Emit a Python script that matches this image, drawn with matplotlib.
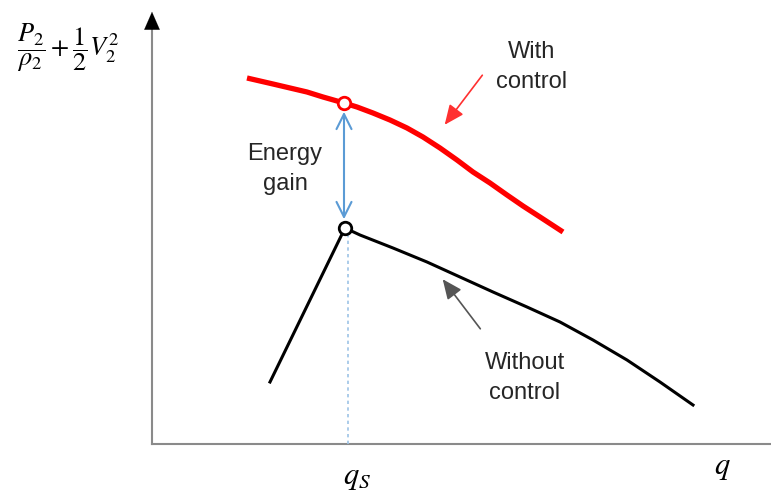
import matplotlib
matplotlib.use("Agg")
import matplotlib.pyplot as plt

plt.rcParams["mathtext.fontset"] = "stix"

# schematic curves, in axis units (origin at the axes corner)
with_q = [95, 121, 138, 155, 171, 192, 205, 221, 238, 255, 271, 288, 305, 321, 338, 355, 371, 388, 411]
with_h = [366, 360, 356, 352, 347, 341, 337, 331, 324, 316, 307, 296, 284, 272, 261, 249, 238, 227, 212]

without_q = [118, 193, 208, 241, 275, 308, 341, 375, 408, 441, 475, 508, 541]
without_h = [62, 216, 209, 196, 182, 167, 152, 137, 122, 104, 84, 62, 39]

q_s = 193
h_with_s = 341
h_without_s = 216

x_max, y_max = 619, 435

fig = plt.figure(figsize=(7.71, 4.93), dpi=100)
ax = fig.add_axes([0, 0, 1, 1])
ax.set_xlim(-152, 619)
ax.set_ylim(-49, 444)
ax.axis("off")

# axes: grey shafts with black heads
ax.plot([0, x_max], [0, 0], color="#8a8a8a", lw=1.5, zorder=1)
ax.plot([0, 0], [0, y_max - 8], color="#8a8a8a", lw=1.5, zorder=1)
ax.annotate("", xy=(0, y_max), xytext=(0, y_max - 14),
            arrowprops=dict(arrowstyle="-|>,head_length=0.8,head_width=0.35",
                            color="black", lw=0.1, mutation_scale=16))
ax.annotate("", xy=(x_max + 6, 0), xytext=(x_max - 8, 0),
            arrowprops=dict(arrowstyle="-|>,head_length=0.8,head_width=0.35",
                            color="black", lw=0.1, mutation_scale=16))

ax.plot(with_q, with_h, color="#ff0000", lw=3.8, solid_capstyle="butt",
        solid_joinstyle="round", zorder=3)
ax.plot(without_q, without_h, color="black", lw=2.2, solid_joinstyle="round", zorder=3)

ax.plot([q_s + 3, q_s + 3], [0, h_without_s - 4], color="#9dc3e6", lw=1.2,
        linestyle=(0, (2, 2)), zorder=2)
ax.annotate("", xy=(q_s - 1, h_without_s + 6), xytext=(q_s - 1, h_with_s - 6),
            arrowprops=dict(arrowstyle="<->,head_length=0.6,head_width=0.3",
                            color="#5b9bd5", lw=1.5, mutation_scale=18), zorder=2)

ax.plot(q_s - 1, h_with_s, "o", ms=9, mfc="white", mec="#ff0000", mew=2, zorder=4)
ax.plot(q_s, h_without_s, "o", ms=9, mfc="white", mec="black", mew=2, zorder=4)

# labels pointing at curves
ax.annotate("", xy=(291, 317), xytext=(332, 371),
            arrowprops=dict(arrowstyle="-|>,head_length=0.8,head_width=0.35",
                            color="#ff3030", lw=1.2, mutation_scale=15))
ax.annotate("", xy=(289, 167), xytext=(330, 113),
            arrowprops=dict(arrowstyle="-|>,head_length=0.8,head_width=0.35",
                            color="#555555", lw=1.2, mutation_scale=15))

tfont = dict(family="Liberation Sans", fontsize=17, color="#262626",
             ha="center", va="center", linespacing=1.45)
ax.text(380, 377, "With\ncontrol", **tfont)
ax.text(373, 66, "Without\ncontrol", **tfont)
ax.text(133, 275, "Energy\ngain", **tfont)

ax.text(q_s + 12, -33, r"$q_S$", fontsize=22, ha="center", va="center")
ax.text(570, -23, r"$q$", fontsize=22, ha="center", va="center")
ax.text(-84, 396, r"$\dfrac{P_2}{\rho_2}+\dfrac{1}{2}V_2^2$", fontsize=19,
        ha="center", va="center")

fig.savefig("out.png", dpi=100)
